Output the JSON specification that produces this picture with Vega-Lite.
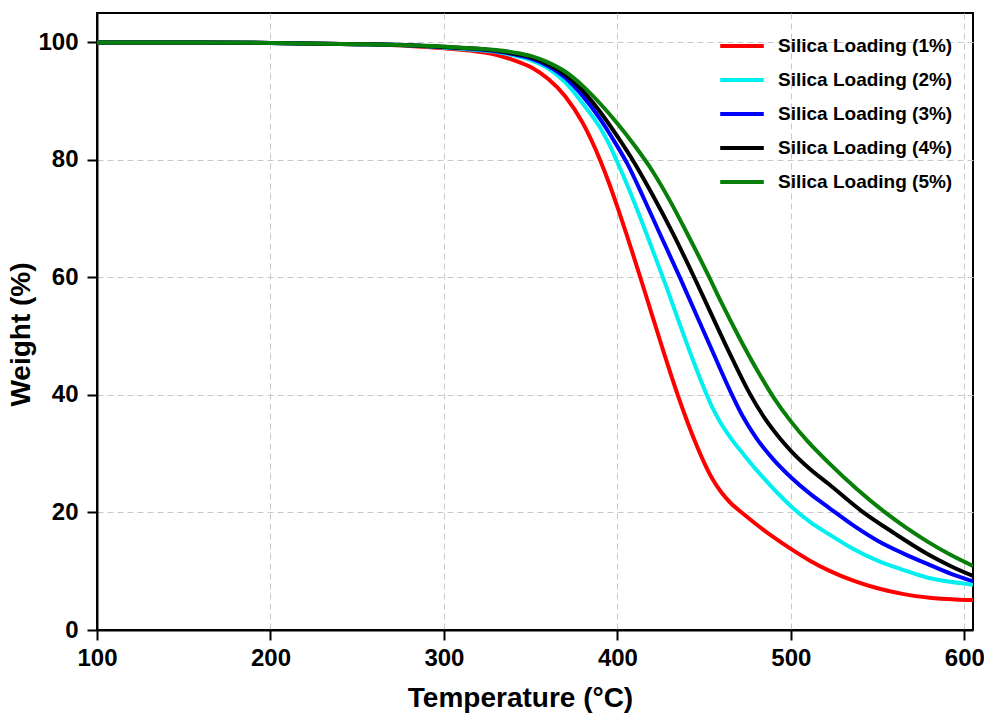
{
  "$schema": "https://vega.github.io/schema/vega-lite/v6.json",
  "autosize": {"type": "none"},
  "width": 876,
  "height": 617,
  "padding": {"left": 97, "top": 13, "right": 11, "bottom": 92},
  "background": "white",
  "config": {
    "font": "Liberation Sans",
    "view": {"stroke": "black", "strokeWidth": 2},
    "axis": {
      "labelFont": "Liberation Sans", "labelFontWeight": "bold", "labelFontSize": 24, "labelColor": "black",
      "titleFont": "Liberation Sans", "titleFontWeight": "bold", "titleFontSize": 28, "titleColor": "black",
      "domainColor": "black", "domainWidth": 2, "tickColor": "black", "tickWidth": 2, "tickSize": 10,
      "gridColor": "#c8c8c8", "gridDash": [6, 4], "gridWidth": 1
    }
  },
  "datasets": {
    "curves": [
      {"s": "1%", "t": 100, "w": 100}, {"s": "1%", "t": 150, "w": 100}, {"s": "1%", "t": 200, "w": 99.9}, {"s": "1%", "t": 250, "w": 99.7}, {"s": "1%", "t": 280, "w": 99.4}, {"s": "1%", "t": 300, "w": 99.0}, {"s": "1%", "t": 315, "w": 98.6}, {"s": "1%", "t": 330, "w": 97.9}, {"s": "1%", "t": 340, "w": 97.0}, {"s": "1%", "t": 350, "w": 95.8}, {"s": "1%", "t": 360, "w": 93.8}, {"s": "1%", "t": 370, "w": 90.8}, {"s": "1%", "t": 380, "w": 86.3}, {"s": "1%", "t": 390, "w": 80.0}, {"s": "1%", "t": 395, "w": 76.2}, {"s": "1%", "t": 400, "w": 72.0}, {"s": "1%", "t": 405, "w": 67.6}, {"s": "1%", "t": 413, "w": 60.2}, {"s": "1%", "t": 420, "w": 53.6}, {"s": "1%", "t": 427, "w": 47.0}, {"s": "1%", "t": 435, "w": 39.8}, {"s": "1%", "t": 440, "w": 35.7}, {"s": "1%", "t": 445, "w": 31.9}, {"s": "1%", "t": 450, "w": 28.5}, {"s": "1%", "t": 455, "w": 25.6}, {"s": "1%", "t": 460, "w": 23.4}, {"s": "1%", "t": 465, "w": 21.7}, {"s": "1%", "t": 472, "w": 19.9}, {"s": "1%", "t": 480, "w": 18.0}, {"s": "1%", "t": 490, "w": 15.8}, {"s": "1%", "t": 500, "w": 13.8}, {"s": "1%", "t": 511, "w": 11.8}, {"s": "1%", "t": 522, "w": 10.1}, {"s": "1%", "t": 536, "w": 8.4}, {"s": "1%", "t": 550, "w": 7.1}, {"s": "1%", "t": 565, "w": 6.1}, {"s": "1%", "t": 580, "w": 5.5}, {"s": "1%", "t": 595, "w": 5.2}, {"s": "1%", "t": 605, "w": 5.1},
      {"s": "2%", "t": 100, "w": 100}, {"s": "2%", "t": 150, "w": 100}, {"s": "2%", "t": 200, "w": 99.9}, {"s": "2%", "t": 250, "w": 99.7}, {"s": "2%", "t": 280, "w": 99.5}, {"s": "2%", "t": 300, "w": 99.1}, {"s": "2%", "t": 315, "w": 98.8}, {"s": "2%", "t": 330, "w": 98.4}, {"s": "2%", "t": 340, "w": 97.8}, {"s": "2%", "t": 350, "w": 97.0}, {"s": "2%", "t": 360, "w": 95.6}, {"s": "2%", "t": 370, "w": 93.2}, {"s": "2%", "t": 380, "w": 89.6}, {"s": "2%", "t": 390, "w": 85.5}, {"s": "2%", "t": 395, "w": 82.8}, {"s": "2%", "t": 400, "w": 79.6}, {"s": "2%", "t": 405, "w": 76.2}, {"s": "2%", "t": 410, "w": 72.6}, {"s": "2%", "t": 415, "w": 68.8}, {"s": "2%", "t": 420, "w": 64.9}, {"s": "2%", "t": 428, "w": 58.6}, {"s": "2%", "t": 436, "w": 52.0}, {"s": "2%", "t": 444, "w": 45.6}, {"s": "2%", "t": 450, "w": 41.1}, {"s": "2%", "t": 455, "w": 37.7}, {"s": "2%", "t": 460, "w": 35.0}, {"s": "2%", "t": 466, "w": 32.4}, {"s": "2%", "t": 473, "w": 29.8}, {"s": "2%", "t": 480, "w": 27.3}, {"s": "2%", "t": 487, "w": 25.0}, {"s": "2%", "t": 494, "w": 22.8}, {"s": "2%", "t": 501, "w": 20.8}, {"s": "2%", "t": 511, "w": 18.4}, {"s": "2%", "t": 522, "w": 16.3}, {"s": "2%", "t": 536, "w": 13.8}, {"s": "2%", "t": 550, "w": 11.8}, {"s": "2%", "t": 565, "w": 10.2}, {"s": "2%", "t": 579, "w": 8.9}, {"s": "2%", "t": 592, "w": 8.2}, {"s": "2%", "t": 605, "w": 7.7},
      {"s": "3%", "t": 100, "w": 100}, {"s": "3%", "t": 150, "w": 100}, {"s": "3%", "t": 200, "w": 99.9}, {"s": "3%", "t": 250, "w": 99.7}, {"s": "3%", "t": 280, "w": 99.5}, {"s": "3%", "t": 300, "w": 99.2}, {"s": "3%", "t": 315, "w": 98.9}, {"s": "3%", "t": 330, "w": 98.5}, {"s": "3%", "t": 340, "w": 98.0}, {"s": "3%", "t": 350, "w": 97.3}, {"s": "3%", "t": 360, "w": 96.0}, {"s": "3%", "t": 370, "w": 94.0}, {"s": "3%", "t": 380, "w": 90.9}, {"s": "3%", "t": 390, "w": 87.0}, {"s": "3%", "t": 400, "w": 82.3}, {"s": "3%", "t": 406, "w": 79.2}, {"s": "3%", "t": 415, "w": 73.6}, {"s": "3%", "t": 425, "w": 67.1}, {"s": "3%", "t": 436, "w": 60.0}, {"s": "3%", "t": 445, "w": 54.0}, {"s": "3%", "t": 455, "w": 47.3}, {"s": "3%", "t": 465, "w": 40.7}, {"s": "3%", "t": 472, "w": 36.5}, {"s": "3%", "t": 480, "w": 32.7}, {"s": "3%", "t": 490, "w": 29.0}, {"s": "3%", "t": 500, "w": 26.0}, {"s": "3%", "t": 511, "w": 23.2}, {"s": "3%", "t": 522, "w": 20.8}, {"s": "3%", "t": 536, "w": 17.8}, {"s": "3%", "t": 550, "w": 15.2}, {"s": "3%", "t": 565, "w": 13.0}, {"s": "3%", "t": 579, "w": 11.2}, {"s": "3%", "t": 592, "w": 9.6}, {"s": "3%", "t": 605, "w": 8.3},
      {"s": "4%", "t": 100, "w": 100}, {"s": "4%", "t": 150, "w": 100}, {"s": "4%", "t": 200, "w": 99.9}, {"s": "4%", "t": 250, "w": 99.7}, {"s": "4%", "t": 280, "w": 99.5}, {"s": "4%", "t": 300, "w": 99.2}, {"s": "4%", "t": 315, "w": 99.0}, {"s": "4%", "t": 330, "w": 98.6}, {"s": "4%", "t": 340, "w": 98.1}, {"s": "4%", "t": 350, "w": 97.5}, {"s": "4%", "t": 360, "w": 96.3}, {"s": "4%", "t": 370, "w": 94.5}, {"s": "4%", "t": 380, "w": 91.8}, {"s": "4%", "t": 390, "w": 88.2}, {"s": "4%", "t": 400, "w": 84.0}, {"s": "4%", "t": 410, "w": 79.4}, {"s": "4%", "t": 420, "w": 74.2}, {"s": "4%", "t": 432, "w": 67.5}, {"s": "4%", "t": 444, "w": 60.2}, {"s": "4%", "t": 455, "w": 53.2}, {"s": "4%", "t": 466, "w": 46.3}, {"s": "4%", "t": 476, "w": 40.4}, {"s": "4%", "t": 485, "w": 36.0}, {"s": "4%", "t": 494, "w": 32.5}, {"s": "4%", "t": 500, "w": 30.5}, {"s": "4%", "t": 511, "w": 27.4}, {"s": "4%", "t": 522, "w": 24.8}, {"s": "4%", "t": 541, "w": 20.2}, {"s": "4%", "t": 560, "w": 16.4}, {"s": "4%", "t": 579, "w": 12.9}, {"s": "4%", "t": 592, "w": 10.9}, {"s": "4%", "t": 605, "w": 9.2},
      {"s": "5%", "t": 100, "w": 100}, {"s": "5%", "t": 150, "w": 100}, {"s": "5%", "t": 200, "w": 99.9}, {"s": "5%", "t": 250, "w": 99.7}, {"s": "5%", "t": 280, "w": 99.5}, {"s": "5%", "t": 300, "w": 99.3}, {"s": "5%", "t": 315, "w": 99.0}, {"s": "5%", "t": 330, "w": 98.7}, {"s": "5%", "t": 340, "w": 98.3}, {"s": "5%", "t": 350, "w": 97.7}, {"s": "5%", "t": 360, "w": 96.6}, {"s": "5%", "t": 370, "w": 95.0}, {"s": "5%", "t": 380, "w": 92.6}, {"s": "5%", "t": 390, "w": 89.6}, {"s": "5%", "t": 400, "w": 86.2}, {"s": "5%", "t": 410, "w": 82.4}, {"s": "5%", "t": 420, "w": 78.2}, {"s": "5%", "t": 430, "w": 73.2}, {"s": "5%", "t": 440, "w": 67.6}, {"s": "5%", "t": 452, "w": 60.6}, {"s": "5%", "t": 460, "w": 55.7}, {"s": "5%", "t": 470, "w": 49.9}, {"s": "5%", "t": 480, "w": 44.5}, {"s": "5%", "t": 490, "w": 39.6}, {"s": "5%", "t": 500, "w": 35.5}, {"s": "5%", "t": 510, "w": 32.0}, {"s": "5%", "t": 522, "w": 28.4}, {"s": "5%", "t": 538, "w": 24.0}, {"s": "5%", "t": 554, "w": 20.1}, {"s": "5%", "t": 566, "w": 17.5}, {"s": "5%", "t": 579, "w": 15.0}, {"s": "5%", "t": 592, "w": 12.8}, {"s": "5%", "t": 605, "w": 10.9}
    ]
  },
  "data": {"name": "curves"},
  "mark": {"type": "line", "strokeWidth": 4, "interpolate": "monotone", "clip": true},
  "encoding": {
    "x": {
      "field": "t", "type": "quantitative",
      "scale": {"domain": [100, 605], "nice": false, "zero": false},
      "axis": {"title": "Temperature (°C)", "values": [100, 200, 300, 400, 500, 600], "titlePadding": 14, "labelPadding": 6, "labelFlush": false, "titleX": 423}
    },
    "y": {
      "field": "w", "type": "quantitative",
      "scale": {"domain": [0, 105], "nice": false},
      "axis": {"title": "Weight (%)", "values": [0, 20, 40, 60, 80, 100], "titlePadding": 2, "labelPadding": 9, "titleY": 321}
    },
    "color": {
      "field": "s", "type": "nominal",
      "scale": {"domain": ["1%", "2%", "3%", "4%", "5%"], "range": ["#ff0000", "#00f0f0", "#0000ff", "#000000", "#087f08"]},
      "legend": {
        "title": null, "orient": "none", "legendX": 621, "legendY": 9,
        "labelExpr": "'Silica Loading (' + datum.label + ')'",
        "symbolType": "stroke", "symbolSize": 1900, "symbolStrokeWidth": 4,
        "labelFont": "Liberation Sans", "labelFontWeight": "bold", "labelFontSize": 19, "labelColor": "black",
        "labelOffset": 12, "labelLimit": 400, "rowPadding": -7
      }
    }
  }
}
